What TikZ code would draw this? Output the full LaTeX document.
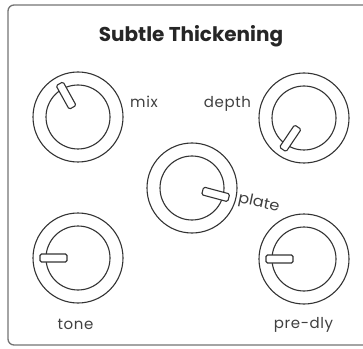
\documentclass[tikz,border=0pt]{standalone}
\usepackage{fontspec}
\setmainfont{Poppins}
\begin{document}
\begin{tikzpicture}[x=1pt,y=1pt,
  outerring/.style={circle,draw=black!80,line width=1.1pt,minimum size=90pt,inner sep=0pt},
  innerring/.style={circle,draw=black!80,line width=1.1pt,minimum size=64pt,inner sep=0pt},
  pointer/.style={draw=black!80,fill=white,line width=1.1pt,rounded corners=1.5pt,minimum width=27pt,minimum height=8pt,inner sep=0pt},
  lbl/.style={font=\fontsize{15}{15}\selectfont\addfontfeatures{LetterSpace=4},text=black!75,inner sep=0pt},
  lblrot/.style={font=\fontsize{15}{15}\selectfont,text=black!75,inner sep=0pt},
  frame/.style={draw=black!55,line width=1.3pt,rounded corners=6pt}]
\useasboundingbox (0,0) rectangle (363,348);
\clip (0,0) rectangle (363,348);
\draw[frame] (8,3) rectangle (420,343);
\node[font=\bfseries\fontsize{20}{20}\selectfont,text=black!85,anchor=base,inner sep=0pt] (title) at (191,306) {Subtle Thickening};
% knobs
\foreach \n/\x/\y/\a in {mix/78/231/119, depth/304/230/236, plate/192/160/-15, tone/78/90/180, predly/304/89/180}{
  \node[outerring] (\n) at (\x,\y) {};
  \node[innerring] (\n-in) at (\x,\y) {};
  \node[pointer,rotate=\a] (\n-ptr) at ([shift={(\a:24.5)}]\n.center) {};
}
\node[lbl,anchor=base] (mixl) at (144,240) {mix};
\node[lbl,anchor=base] (depthl) at (227.5,240) {depth};
\node[lblrot,anchor=base,rotate=-12,xscale=1.08] (platel) at (258,141) {plate};
\node[lbl,anchor=base] (tonel) at (75.5,19) {tone};
\node[lbl,anchor=base] (predlyl) at (303.5,20) {pre-dly};
\end{tikzpicture}
\end{document}
